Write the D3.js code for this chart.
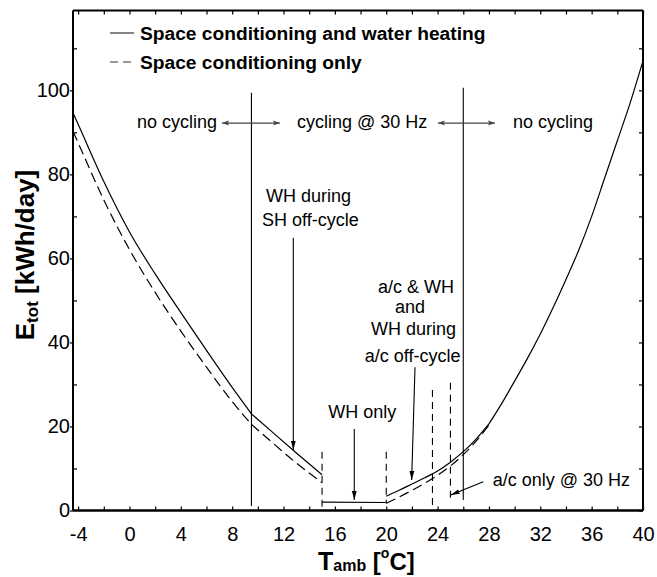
<!DOCTYPE html>
<html><head><meta charset="utf-8">
<script src="https://cdn.jsdelivr.net/npm/d3@7"></script>
<style>body{margin:0;background:#fff}svg{display:block;font-family:"Liberation Sans",Arial,sans-serif}</style>
</head><body>
<svg id="chart" width="657" height="577"></svg>
<script>
// ---------------- data ----------------
const tempHeat    = [-4.4, -4, -2, 0, 2, 4, 6, 8, 9.5, 11, 13, 15];
const eHeatWithWH = [94.6, 91.9, 78.3, 66.3, 56.3, 47.1, 38.1, 29.3, 23.0, 19.0, 13.7, 8.5];
const eHeatOnly   = [90.2, 87.5, 73.9, 62.1, 51.9, 42.7, 34.1, 25.9, 20.5, 16.5, 11.3, 6.6];
const tempWHOnly  = [15, 20];
const eWHOnly     = [2.0, 1.9];
const tempCool    = [20, 21, 22, 23, 24, 25, 26, 27, 28];
const eCoolWithWH = [3.4, 4.8, 6.3, 7.8, 9.4, 11.5, 14.0, 17.0, 20.6];
const eCoolOnly   = [1.7, 3.2, 4.8, 6.5, 8.4, 10.6, 13.3, 16.5, 20.3];
const tempHigh    = [28, 29, 30, 31, 32, 33, 34, 35, 36, 37, 38, 39, 40];
const eHigh       = [20.6, 25.5, 30.8, 36.2, 42.0, 48.3, 55.0, 62.0, 70.0, 79.0, 88.0, 97.0, 107.0];
const kinkTemps   = [9.5];

const refSolidT      = [9.5, 26];
const refSolidTop    = [99.4, 100.6];
const refSolidBottom = [1.1, 2.5];
const refDashedT      = [15, 20, 23.6, 25];
const refDashedTop    = [14, 14, 28.7, 30.4];
const refDashedBottom = [0.8, 1.7, 1.3, 2.7];

const xTicks      = [-4, 0, 4, 8, 12, 16, 20, 24, 28, 32, 36, 40];
const xMinorTicks = [-2, 2, 6, 10, 14, 18, 22, 26, 30, 34, 38];
const yTicks      = [0, 20, 40, 60, 80, 100];
const yMinorTicks = [10, 30, 50, 70, 90, 110];

const legendLabels = ["Space conditioning and water heating", "Space conditioning only"];

// ---------------- setup ----------------
const svg = d3.select("#chart");
const x = d3.scaleLinear().domain([-4.4, 40]).range([73, 643]);
const y = d3.scaleLinear().domain([0, 119]).range([510.5, 10.5]);
const FONT = '"Liberation Sans", Arial, sans-serif';

const defs = svg.append("defs");
defs.append("marker").attr("id","ah").attr("markerUnits","userSpaceOnUse")
  .attr("viewBox","0 0 9 6").attr("markerWidth",9).attr("markerHeight",6)
  .attr("refX",9).attr("refY",3).attr("orient","auto")
  .append("path").attr("d","M0,0.6 L9,3 L0,5.4 Z").attr("fill","#000");
defs.append("marker").attr("id","ahg").attr("markerUnits","userSpaceOnUse")
  .attr("viewBox","0 0 7 6").attr("markerWidth",7).attr("markerHeight",6)
  .attr("refX",7).attr("refY",3).attr("orient","auto-start-reverse")
  .append("path").attr("d","M0,0.5 L7,3 L0,5.5 L1.5,3 Z").attr("fill","#444");

// ---------------- axes ----------------
function styleAxis(g){ g.select(".domain").remove(); g.selectAll("line").attr("stroke","#000").attr("stroke-width",1.2);
  g.selectAll("text").attr("font-family",FONT).attr("font-size",20).attr("fill","#000"); }
const fmt = d => String(d);

svg.append("g").attr("transform",`translate(0,${y(0)})`)
  .call(d3.axisBottom(x).tickValues(xTicks).tickSizeInner(-4).tickSizeOuter(0).tickPadding(16).tickFormat(fmt))
  .call(styleAxis);
svg.append("g").attr("transform",`translate(0,${y(0)})`)
  .call(d3.axisBottom(x).tickValues(xMinorTicks).tickSizeInner(-4).tickSizeOuter(0).tickFormat(""))
  .call(styleAxis);
svg.append("g").attr("transform",`translate(0,${y(119)})`)
  .call(d3.axisTop(x).tickValues(xTicks.concat(xMinorTicks)).tickSizeInner(-4).tickSizeOuter(0).tickFormat(""))
  .call(styleAxis);
svg.append("g").attr("transform",`translate(${x(-4.4)},0)`)
  .call(d3.axisLeft(y).tickValues(yTicks).tickSizeInner(3).tickSizeOuter(0).tickPadding(0).tickFormat(fmt))
  .call(styleAxis);
svg.append("g").attr("transform",`translate(${x(-4.4)},0)`)
  .call(d3.axisLeft(y).tickValues(yMinorTicks).tickSizeInner(-4).tickSizeOuter(0).tickFormat(""))
  .call(styleAxis);
svg.append("g").attr("transform",`translate(${x(40)},0)`)
  .call(d3.axisRight(y).tickValues(yTicks.concat(yMinorTicks)).tickSizeInner(-4).tickSizeOuter(0).tickFormat(""))
  .call(styleAxis);

// frame
const frame = svg.append("g").attr("stroke","#000").attr("fill","none");
frame.append("line").attr("x1",x(-4.4)).attr("x2",x(40)).attr("y1",y(0)).attr("y2",y(0)).attr("stroke-width",2.6);
frame.append("line").attr("x1",x(-4.4)).attr("x2",x(40)).attr("y1",y(119)).attr("y2",y(119)).attr("stroke-width",2);
frame.append("line").attr("x1",x(-4.4)).attr("x2",x(-4.4)).attr("y1",y(0)).attr("y2",y(119)).attr("stroke-width",2);
frame.append("line").attr("x1",x(40)).attr("x2",x(40)).attr("y1",y(0)).attr("y2",y(119)).attr("stroke-width",2);

// ---------------- reference lines ----------------
const refs = svg.append("g").attr("stroke","#000").attr("fill","none");
refSolidT.forEach((t,i)=>{
  refs.append("line").attr("x1",x(t)).attr("x2",x(t)).attr("y1",y(refSolidTop[i])).attr("y2",y(refSolidBottom[i])).attr("stroke-width",1.1);
});
refDashedT.forEach((t,i)=>{
  refs.append("line").attr("x1",x(t)).attr("x2",x(t)).attr("y1",y(refDashedTop[i])).attr("y2",y(refDashedBottom[i]))
    .attr("stroke-width",1.1).attr("stroke-dasharray","7,5");
});

// ---------------- curves ----------------
function split(ts, es, breaks){
  const out=[]; let cur=[];
  ts.forEach((t,i)=>{ cur.push([t,es[i]]); if(breaks.includes(t) && i>0 && i<ts.length-1){ out.push(cur); cur=[[t,es[i]]]; } });
  out.push(cur); return out;
}
const line = d3.line().x(d=>x(d[0])).y(d=>y(d[1])).curve(d3.curveMonotoneX);
const curves = svg.append("g").attr("fill","none").attr("stroke","#000").attr("stroke-width",1.2);
function draw(ts, es, dashed){
  split(ts, es, kinkTemps).forEach(seg=>{
    curves.append("path").attr("d",line(seg)).attr("stroke-dasharray",dashed?"10,5":null);
  });
}
draw(tempHeat, eHeatWithWH, false);
draw(tempHeat, eHeatOnly, true);
draw(tempWHOnly, eWHOnly, false);
draw(tempCool, eCoolWithWH, false);
draw(tempCool, eCoolOnly, true);
draw(tempHigh, eHigh, false);

// ---------------- legend ----------------
const leg = svg.append("g");
leg.append("line").attr("x1",110).attr("x2",134).attr("y1",33).attr("y2",33).attr("stroke","#333").attr("stroke-width",1.2);
leg.append("line").attr("x1",110).attr("x2",134).attr("y1",62).attr("y2",62).attr("stroke","#333").attr("stroke-width",1.2).attr("stroke-dasharray","8,5");
leg.selectAll("text.lg").data(legendLabels).join("text").attr("class","lg")
  .attr("x",140).attr("y",(d,i)=>40+i*29).attr("font-size",19.2).attr("font-weight","bold")
  .attr("font-family",FONT).text(d=>d);

// ---------------- annotations ----------------
const ann = svg.append("g").attr("font-family",FONT).attr("font-size",18).attr("fill","#000");
function txt(t,e,s){ ann.append("text").attr("x",x(t)).attr("y",y(e)).text(s); }
txt(0.585, 91.1, "no cycling");
txt(13.05, 91.1, "cycling @ 30 Hz");
txt(29.87, 91.1, "no cycling");
txt(10.63, 73.4, "WH during");
txt(10.32, 67.7, "SH off-cycle");
txt(19.36, 51.8, "a/c & WH");
txt(20.68, 47.1, "and");
txt(18.81, 41.8, "WH during");
txt(18.33, 35.4, "a/c off-cycle");
txt(15.49, 22.0, "WH only");
txt(28.29, 5.83, "a/c only @ 30 Hz");

const arr = svg.append("g").attr("fill","none");
function arrow(t1,e1,t2,e2,gray){
  arr.append("line").attr("x1",x(t1)).attr("y1",y(e1)).attr("x2",x(t2)).attr("y2",y(e2))
    .attr("stroke",gray?"#444":"#000").attr("stroke-width",gray?1.4:1.1)
    .attr("marker-end",gray?"url(#ahg)":"url(#ah)").attr("marker-start",gray?"url(#ahg)":null);
}
arrow(7.21, 92.2, 11.72, 92.2, true);
arrow(24.03, 92.2, 28.47, 92.2, true);
arrow(12.76, 64.9, 12.76, 14.4, false);
arrow(22.24, 34.1, 21.98, 7.26, false);
arrow(17.51, 19.4, 17.51, 2.5, false);
arrow(27.56, 6.85, 25.02, 3.69, false);

// ---------------- axis titles ----------------
const xt = svg.append("text").attr("x",318).attr("y",570).attr("font-family",FONT).attr("font-weight","bold").attr("font-size",25);
xt.append("tspan").text("T");
xt.append("tspan").attr("font-size",16).attr("dy",1).text("amb");
xt.append("tspan").attr("font-size",24).attr("dy",-1).text(" [");
xt.append("tspan").attr("font-size",14).attr("dy",-12).text("o");
xt.append("tspan").attr("font-size",24).attr("dy",12).text("C]");

const yt = svg.append("text").attr("transform","translate(34,255) rotate(-90)").attr("text-anchor","middle")
  .attr("font-family",FONT).attr("font-weight","bold").attr("font-size",26);
yt.append("tspan").text("E");
yt.append("tspan").attr("font-size",17).attr("dy",4).text("tot");
yt.append("tspan").attr("dy",-4).text(" [kWh/day]");
</script>
</body></html>
